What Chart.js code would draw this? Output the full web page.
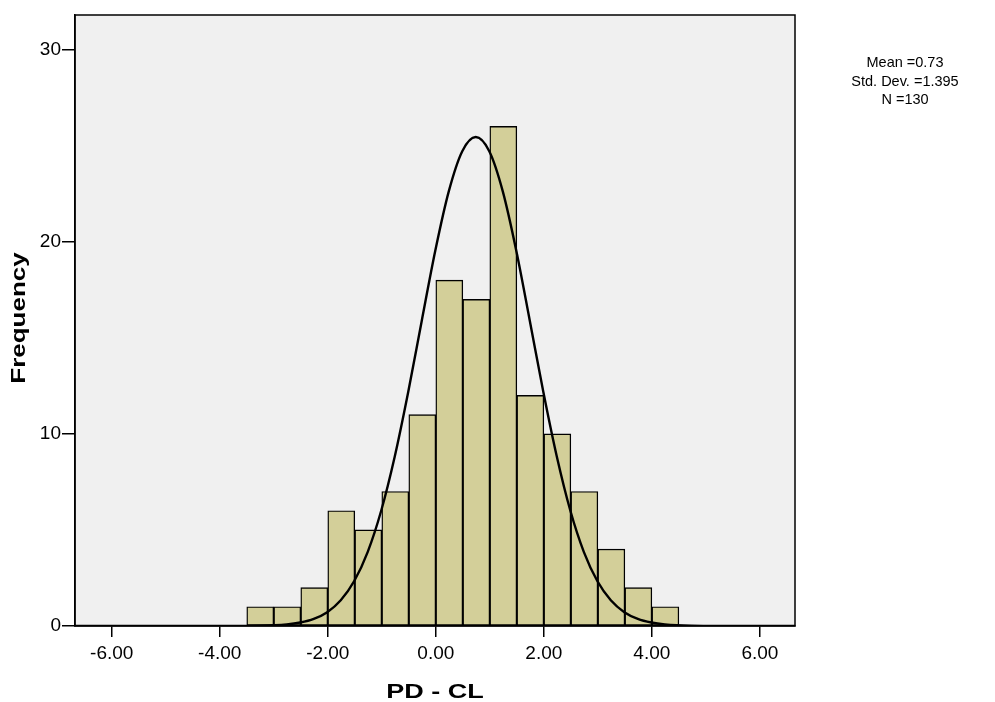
<!DOCTYPE html>
<html>
<head>
<meta charset="utf-8">
<script src="https://cdn.jsdelivr.net/npm/chart.js@4.4.1/dist/chart.umd.min.js"></script>
<style>
  html, body { margin: 0; padding: 0; background: #fff; }
</style>
</head>
<body>
<canvas id="hist" width="995" height="702"></canvas>
<script>
// histogram bins (width 0.5), centres and counts
const binCenters = [-3.25, -2.75, -2.25, -1.75, -1.25, -0.75, -0.25, 0.25, 0.75, 1.25, 1.75, 2.25, 2.75, 3.25, 3.75, 4.25];
const counts = [1, 1, 2, 6, 5, 7, 11, 18, 17, 26, 12, 10, 7, 4, 2, 1];

// normal curve, points
const curveX = [-6.68, -4.5, -3.76, -3.26, -2.76, -2.51, -2.26, -2.01, -1.76, -1.51, -1.26, -1.01, -0.76, -0.51, -0.26, -0.01, 0.24, 0.49, 0.74,
                0.99, 1.24, 1.49, 1.74, 1.99, 2.24, 2.49, 2.74, 2.99, 3.24, 3.49, 3.74, 3.99, 4.24, 4.74, 5.24, 6.0, 6.65];
const curveY = [0, 0, 0, 0.01, 0.08, 0.18, 0.37, 0.72, 1.34, 2.34, 3.86, 6.01, 8.82, 12.19, 15.89, 19.53, 22.62, 24.71, 25.45,
                24.71, 22.62, 19.53, 15.89, 12.19, 8.82, 6.01, 3.86, 2.34, 1.34, 0.72, 0.37, 0.18, 0.08, 0.01, 0, 0, 0];

const xTicks = [-6, -4, -2, 0, 2, 4, 6];
const yTicks = [0, 10, 20, 30];
const statLines = ["Mean =0.73", "Std. Dev. =1.395", "N =130"];
const xTitle = "PD - CL";
const yTitle = "Frequency";

const FONT = '"Liberation Sans", Arial, sans-serif';

const frame = {
  id: 'frame',
  beforeDraw(chart) {
    const {ctx, chartArea: a} = chart;
    ctx.save();
    ctx.fillStyle = '#fff';
    ctx.fillRect(0, 0, chart.width, chart.height);
    ctx.fillStyle = '#f0f0f0';
    ctx.fillRect(a.left, a.top, a.right - a.left, a.bottom - a.top);
    ctx.restore();
  },
  afterDatasetsDraw(chart) {
    const {ctx, chartArea: a} = chart;
    ctx.save();
    ctx.strokeStyle = '#000';
    ctx.lineWidth = 1.5;
    ctx.strokeRect(a.left, a.top, a.right - a.left, a.bottom - a.top);
    ctx.restore();
  },
  afterDraw(chart) {
    const {ctx, chartArea: a} = chart;
    ctx.save();
    ctx.fillStyle = '#000';
    ctx.textAlign = 'center';
    ctx.textBaseline = 'alphabetic';

    // x axis title (SPSS stretches it)
    ctx.font = 'bold 20px ' + FONT;
    ctx.save();
    ctx.translate((a.left + a.right) / 2, 698);
    ctx.scale(1.35, 1);
    ctx.fillText(xTitle, 0, 0);
    ctx.restore();

    // y axis title
    ctx.save();
    ctx.translate(25, 318);
    ctx.rotate(-Math.PI / 2);
    ctx.scale(1.3, 1);
    ctx.fillText(yTitle, 0, 0);
    ctx.restore();

    // stats box
    ctx.font = '14.5px ' + FONT;
    statLines.forEach((t, i) => {
      ctx.fillText(t, 905, 67 + i * 18.5);
    });
    ctx.restore();
  }
};

new Chart(document.getElementById('hist'), {
  type: 'bar',
  data: {
    datasets: [
      {
        type: 'line',
        data: curveX.map((x, i) => ({x: x, y: curveY[i]})),
        borderColor: '#000',
        borderWidth: 2.4,
        pointRadius: 0,
        fill: false,
        cubicInterpolationMode: 'monotone',
        order: 0
      },
      {
        type: 'bar',
        data: binCenters.map((x, i) => ({x: x, y: counts[i]})),
        backgroundColor: '#d3cf99',
        borderColor: '#000',
        borderWidth: 1.4,
        borderSkipped: false,
        barPercentage: 1,
        categoryPercentage: 1,
        order: 1
      }
    ]
  },
  options: {
    responsive: false,
    animation: false,
    layout: { padding: { left: 0, right: 200, top: 15, bottom: 0 } },
    plugins: { legend: { display: false }, tooltip: { enabled: false } },
    scales: {
      x: {
        type: 'linear',
        min: -6.68,
        max: 6.65,
        offset: false,
        afterFit: s => { s.height = 76; },
        afterBuildTicks: s => { s.ticks = xTicks.map(v => ({value: v})); },
        grid: { offset: false, drawOnChartArea: false, drawTicks: true, tickLength: 11, color: '#000', lineWidth: 1.5 },
        border: { display: true, color: '#000', width: 1.5 },
        ticks: {
          color: '#000', font: { family: FONT, size: 19 }, padding: 5,
          maxRotation: 0, autoSkip: false,
          callback: v => Number(v).toFixed(2)
        }
      },
      y: {
        min: 0,
        max: 31.8,
        afterFit: s => { s.width = 75; },
        afterBuildTicks: s => { s.ticks = yTicks.map(v => ({value: v})); },
        grid: { drawOnChartArea: false, drawTicks: true, tickLength: 13, color: '#000', lineWidth: 1.5 },
        border: { display: true, color: '#000', width: 1.5 },
        ticks: {
          color: '#000', font: { family: FONT, size: 19 }, padding: 1,
          callback: v => v
        }
      }
    }
  },
  plugins: [frame]
});
</script>
</body>
</html>
